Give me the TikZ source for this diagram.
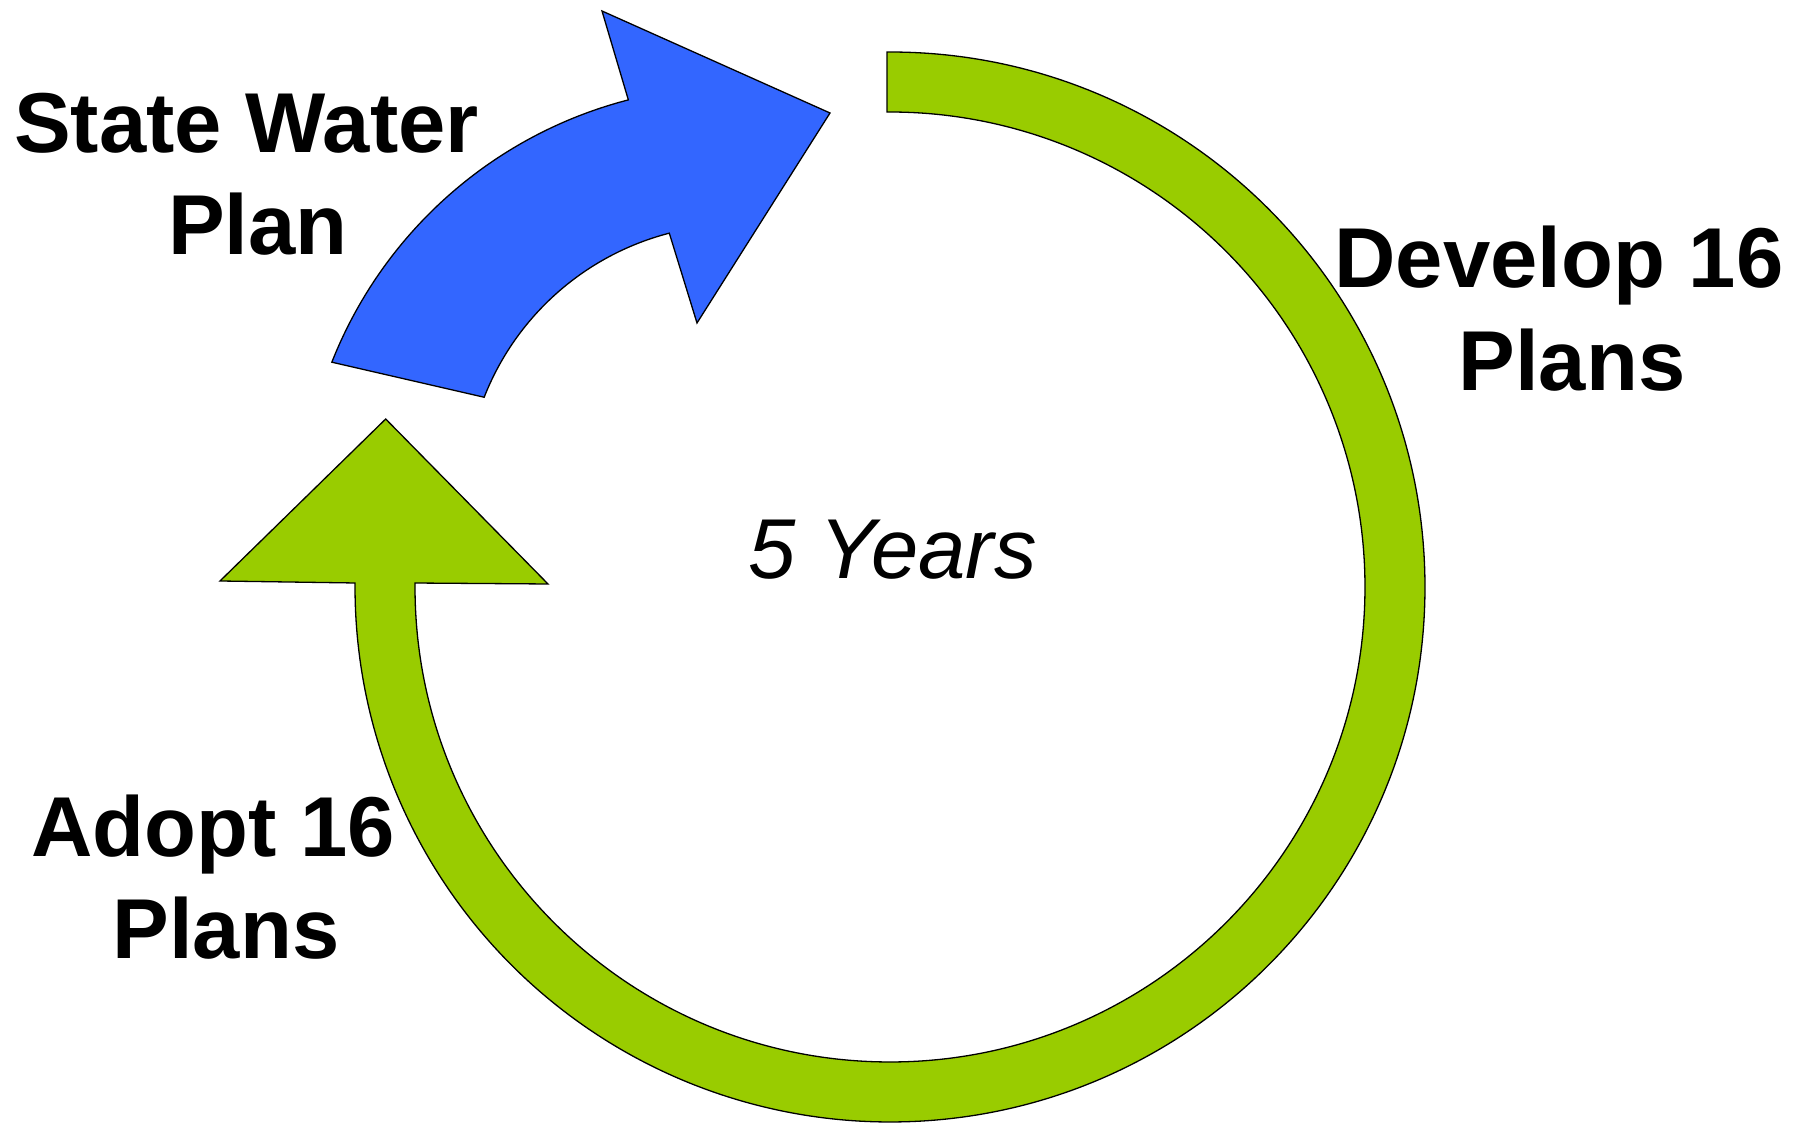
\documentclass[tikz,border=0pt]{standalone}
\usepackage{fontspec}
\setmainfont{Liberation Sans}
\usetikzlibrary{calc}
\definecolor{cycgreen}{HTML}{99CC00}
\definecolor{cycblue}{HTML}{3366FF}
\begin{document}
\begin{tikzpicture}[x=1pt,y=1pt,
  shapeline/.style={draw=black,line width=1.3pt,line join=miter},
  biglabel/.style={font=\fontsize{85}{102}\selectfont\bfseries,anchor=base,inner sep=0pt},
  midlabel/.style={font=\fontsize{85}{102}\selectfont\itshape,anchor=base,inner sep=0pt}]
\useasboundingbox (0,0) rectangle (1805,1124);
% green cycle arrow
\coordinate (gc) at (890,537);
\coordinate (gbl) at (220,543);
\coordinate (gapex) at (385.7,705);
\coordinate (gbr) at (548,540);
\path[shapeline,fill=cycgreen]
  ($(gc)+(90.32:535)$) arc[start angle=90.32,end angle=-180.43,radius=535]
  -- (gbl) -- (gapex) -- (gbr)
  -- ($(gc)+(-180.48:475)$) arc[start angle=-180.48,end angle=90.36,radius=475]
  -- cycle;
% blue arrow
\coordinate (bco) at (737.5,602);
\coordinate (bci) at (737.4,627.5);
\coordinate (bbarb) at (602,1113);
\coordinate (btip) at (830,1011);
\coordinate (bbarbb) at (697,801);
\path[shapeline,fill=cycblue]
  ($(bco)+(158.5:436)$) arc[start angle=158.5,end angle=104.5,radius=436]
  -- (bbarb) -- (btip) -- (bbarbb)
  -- ($(bci)+(104.5:272)$) arc[start angle=104.5,end angle=158.6,radius=272]
  -- cycle;
% labels
\node[biglabel] (swp1) at (246.5,971) {State Water};
\node[biglabel] (swp2) at (258,869) {Plan};
\node[biglabel] (dev1) at (1559,836) {Develop 16};
\node[biglabel] (dev2) at (1572,733) {Plans};
\node[biglabel] (ado1) at (213,267) {Adopt 16};
\node[biglabel] (ado2) at (226,165) {Plans};
\node[midlabel] (years) at (892.5,545) {5 Years};
\end{tikzpicture}
\end{document}
